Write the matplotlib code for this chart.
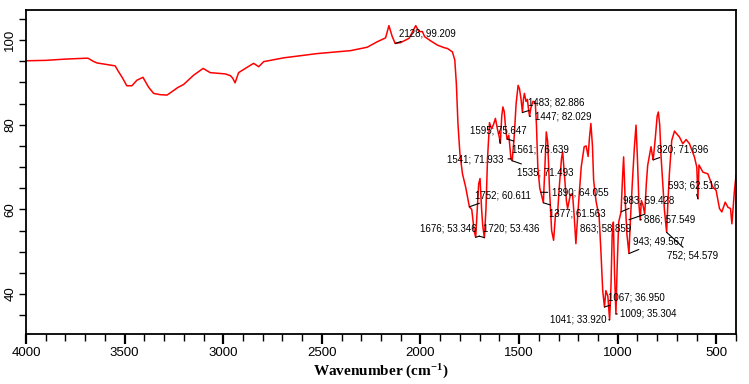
import matplotlib
matplotlib.use("Agg")
import matplotlib.pyplot as plt
from matplotlib.ticker import MultipleLocator

plt.rcParams['mathtext.fontset'] = 'custom'
plt.rcParams['mathtext.rm'] = 'Liberation Serif'
plt.rcParams['mathtext.bf'] = 'Liberation Serif:bold'

# spectrum (wavenumber, %T)
wavenumber = [4000, 3900, 3800, 3700, 3685, 3660, 3641, 3600, 3548, 3533, 3510, 3489,
              3463, 3438, 3407, 3379, 3353, 3320, 3285, 3260, 3230, 3201, 3150, 3102,
              3066, 3018, 2990, 2964, 2952, 2940, 2922, 2888, 2846, 2820, 2795, 2693,
              2524, 2354, 2270, 2219, 2177, 2160, 2143, 2128, 2101, 2058, 2024, 2008,
              1990, 1979, 1948, 1914, 1880, 1863, 1838, 1826, 1818, 1810, 1800, 1787,
              1771, 1752, 1740, 1728, 1720, 1712, 1705, 1698, 1690, 1684, 1676, 1668,
              1660, 1650, 1640, 1630, 1620, 1610, 1600, 1595, 1588, 1582, 1575, 1568,
              1561, 1552, 1541, 1535, 1525, 1515, 1505, 1498, 1490, 1483, 1478, 1473,
              1465, 1458, 1453, 1447, 1440, 1430, 1418, 1412, 1405, 1395, 1390, 1377,
              1370, 1362, 1355, 1345, 1335, 1325, 1315, 1305, 1295, 1285, 1279, 1270,
              1260, 1254, 1240, 1229, 1220, 1212, 1205, 1195, 1185, 1170, 1160, 1150,
              1143, 1136, 1128, 1122, 1110, 1094, 1085, 1076, 1067, 1060, 1050, 1041,
              1034, 1028, 1022, 1016, 1009, 1003, 995, 983, 975, 970, 962, 953,
              943, 935, 925, 915, 907, 900, 892, 886, 880, 872, 863, 855,
              848, 840, 831, 825, 820, 810, 800, 794, 787, 780, 770, 763,
              752, 745, 738, 726, 712, 700, 687, 670, 653, 636, 611, 599,
              593, 588, 582, 568, 543, 518, 501, 484, 472, 455, 441, 428,
              421, 408, 400]
transmittance = [95.1, 95.2, 95.5, 95.7, 95.7, 95.0, 94.6, 94.3, 93.9, 92.7, 91.0, 89.2,
                 89.2, 90.5, 91.2, 88.9, 87.4, 87.1, 87.0, 87.8, 88.8, 89.5, 91.7, 93.3,
                 92.3, 92.1, 92.0, 91.6, 91.0, 89.9, 92.3, 93.3, 94.5, 93.7, 94.9, 95.8,
                 96.8, 97.5, 98.3, 99.6, 100.5, 103.4, 100.8, 99.2, 99.4, 100.4, 103.4, 102.0,
                 102.0, 100.8, 99.8, 98.8, 98.2, 98.0, 97.2, 95.3, 89.7, 80.3, 73.2, 68.4,
                 65.3, 60.6, 60.0, 55.0, 53.4, 60.0, 66.0, 67.3, 60.0, 56.0, 53.3, 60.0,
                 72.0, 80.5, 79.0, 80.0, 81.5, 79.0, 77.0, 75.6, 82.0, 84.2, 83.0, 79.0,
                 76.6, 77.5, 71.9, 71.5, 77.0, 85.0, 89.3, 88.5, 86.0, 82.9, 86.0, 87.4,
                 85.5, 86.0, 84.0, 82.0, 84.0, 85.5, 85.4, 80.0, 70.0, 65.0, 64.1, 61.6,
                 69.0, 78.3, 76.0, 64.0, 55.0, 52.7, 59.0, 59.0, 66.0, 72.0, 73.6, 68.0,
                 62.0, 60.2, 63.5, 63.7, 58.0, 51.9, 57.0, 63.7, 70.0, 74.8, 75.0, 72.5,
                 77.0, 80.3, 75.0, 66.9, 62.0, 58.2, 50.0, 40.8, 36.95, 40.8, 39.5, 33.9,
                 42.0, 54.0, 57.0, 45.0, 35.3, 46.0, 57.0, 59.4, 68.0, 72.4, 62.0, 54.0,
                 49.6, 58.0, 67.0, 75.0, 79.9, 72.0, 61.0, 57.5, 62.1, 61.0, 58.9, 66.0,
                 70.4, 72.5, 74.8, 73.0, 71.7, 76.5, 82.0, 83.0, 80.0, 72.4, 65.0, 59.8,
                 54.6, 62.0, 68.4, 76.3, 78.5, 77.8, 77.1, 75.5, 76.5, 75.5, 72.4, 70.0,
                 62.5, 70.5, 70.0, 68.8, 68.4, 65.3, 64.5, 60.2, 59.4, 61.7, 60.5, 60.2,
                 56.6, 64.5, 68.0]

# peak labels
peak_wn = [2128, 1483, 1447, 1595, 1561, 1541, 1535, 1752, 1390, 1377, 1676, 1720,
           863, 820, 593, 983, 886, 943, 752, 1067, 1009, 1041]
peak_t = [99.209, 82.886, 82.029, 75.647, 76.639, 71.933, 71.493, 60.611, 64.055,
          61.563, 53.346, 53.436, 58.859, 71.696, 62.516, 59.428, 57.549, 49.567,
          54.579, 36.950, 35.304, 33.920]
# where each label's text sits (wavenumber, %T, alignment)
label_x = [2111, 1456, 1420, 1750, 1537, 1577, 1511, 1725, 1334, 1349, 1715, 1684,
           1192, 800, 744, 973, 866, 922, 750, 1049, 988, 1059]
label_y = [101.6, 85.3, 82.0, 78.7, 74.2, 71.9, 68.8, 63.4, 63.9, 59.1, 55.6, 55.6,
           55.6, 74.2, 65.7, 62.2, 57.7, 52.5, 49.0, 39.3, 35.3, 33.9]
label_ha = ['left'] * len(peak_wn)
label_ha[5] = 'right'
label_ha[10] = 'right'
label_ha[21] = 'right'

fig = plt.figure(figsize=(7.49, 3.84), dpi=100)
ax = fig.add_axes([0.0347, 0.130, 0.948, 0.844])

ax.plot(wavenumber, transmittance, color='red', lw=1.1)

for w, t, lx, ly, ha in zip(peak_wn, peak_t, label_x, label_y, label_ha):
    ax.annotate(f"{w}; {t:.3f}", xy=(w, t), xytext=(lx, ly), ha=ha, va='center',
                fontsize=7, family='Liberation Sans',
                arrowprops=dict(arrowstyle='-', color='black', lw=0.8,
                                shrinkA=1, shrinkB=0))

ax.set_xlim(4000, 400)
ax.set_ylim(30.55, 107.1)
ax.xaxis.set_major_locator(MultipleLocator(500))
ax.xaxis.set_minor_locator(MultipleLocator(100))
ax.yaxis.set_major_locator(MultipleLocator(20))
ax.yaxis.set_minor_locator(MultipleLocator(5))
ax.tick_params(axis='x', which='major', length=7, width=1.6, pad=2)
ax.tick_params(axis='x', which='minor', length=5, width=1.0)
ax.tick_params(axis='y', which='both', length=5, width=1.0, pad=2)
for lbl in ax.get_xticklabels():
    lbl.set_family('Liberation Sans')
    lbl.set_fontsize(9.5)
for lbl in ax.get_yticklabels():
    lbl.set_family('Liberation Sans')
    lbl.set_fontsize(9.5)
    lbl.set_rotation(90)
    lbl.set_va('center')

for s in ax.spines.values():
    s.set_linewidth(1.3)

ax.set_xlabel(r'Wavenumber (cm$\mathbf{^{-1}}$)', family='Liberation Serif',
              fontweight='bold', fontsize=11, labelpad=3)

fig.savefig('out.png', dpi=100)
